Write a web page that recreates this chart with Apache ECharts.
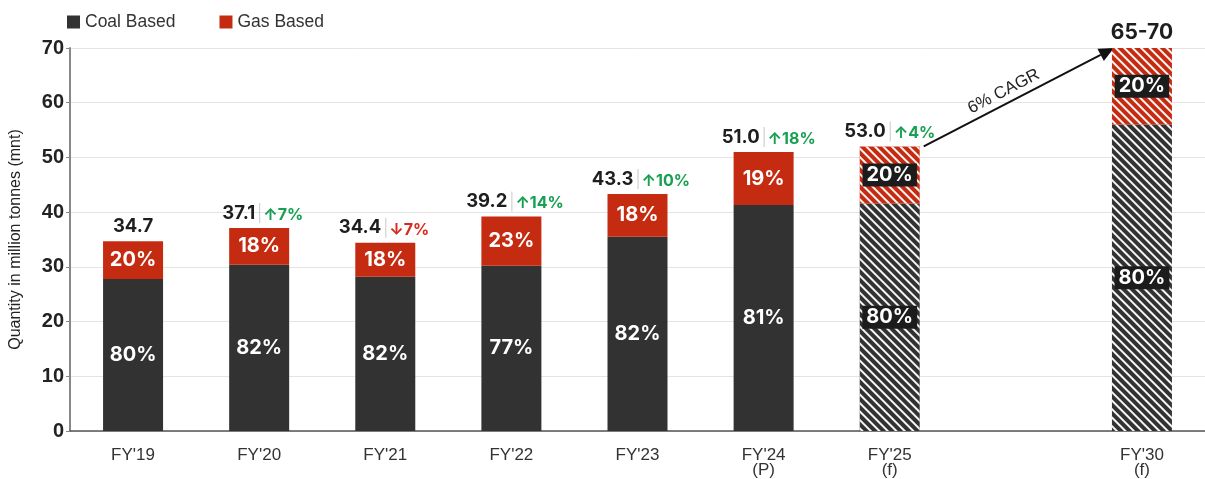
<!DOCTYPE html>
<html>
<head>
<meta charset="utf-8">
<script src="https://cdn.jsdelivr.net/npm/echarts@6/dist/echarts.min.js"></script>
<style>
  html, body { margin: 0; padding: 0; background: #fff; }
  #chart { width: 1205px; height: 479px; }
</style>
</head>
<body>
<div id="chart"></div>
<script>
// categories (blank slot keeps the gap between FY'25 and FY'30)
const categories = ["FY'19", "FY'20", "FY'21", "FY'22", "FY'23", "FY'24\n(P)", "FY'25\n(f)", "", "FY'30\n(f)"]
const coalValues = [27.8, 30.4, 28.2, 30.2, 35.5, 41.3, 41.6, null, 56]
const gasValues = [6.9, 6.7, 6.2, 9.0, 7.8, 9.7, 10.4, null, 14]
const coalShare = ['80%', '82%', '82%', '77%', '82%', '81%', '80%', '', '80%']
const gasShare = ['20%', '18%', '18%', '23%', '18%', '19%', '20%', '', '20%']
const totalLabels = ['34.7', '37.1', '34.4', '39.2', '43.3', '51.0', '53.0', '', '65-70']
const growthLabels = ['', '7%', '-7%', '14%', '10%', '18%', '4%', '', '']
const isForecast = [false, false, false, false, false, false, true, false, true]
const yTicks = { min: 0, max: 70, interval: 10 }

const COAL = '#323232'
const GAS = '#c42b10'
const LABEL_FONT = 'Inter, "Noto Sans", sans-serif'
const PLAIN_FONT = '"Liberation Sans", Arial, sans-serif'

const hatch = {
  symbol: 'rect',
  symbolSize: 1,
  color: 'rgba(255,255,255,0.95)',
  dashArrayX: [1, 0],
  dashArrayY: [1.1, 3.3],
  rotation: Math.PI / 4
}

function buildData (values, color) {
  return values.map((v, i) => {
    if (v === null) return null
    const item = { value: v }
    if (isForecast[i]) {
      item.itemStyle = { color: color, decal: hatch }
      item.label = { backgroundColor: '#1c1c1c', padding: [3, 4, 0, 4] }
    }
    return item
  })
}

const pctLabel = (shares) => ({
  show: true,
  position: 'inside',
  color: '#fff',
  fontFamily: LABEL_FONT,
  fontWeight: 'bold',
  fontSize: 20,
  formatter: p => shares[p.dataIndex]
})

// totals: right-aligned next to the divider when a growth tag follows, centred otherwise
const totalData = totalLabels.map((t, i) => {
  if (!t) return null
  if (!growthLabels[i]) return { value: 0, label: { align: 'center', offset: [0, 0] } }
  return { value: 0 }
})
const growthData = growthLabels.map(g => (g ? 0 : null))

const chart = echarts.init(document.getElementById('chart'))

const option = {
  animation: false,
  legend: {
    data: ['Coal Based', 'Gas Based'],
    left: 62,
    top: 8,
    icon: 'rect',
    itemWidth: 13,
    itemHeight: 13,
    itemGap: 44,
    textStyle: { fontSize: 17.5, color: '#333', fontFamily: PLAIN_FONT }
  },
  grid: { left: 68, right: 0, top: 48, bottom: 48 },
  xAxis: {
    type: 'category',
    data: categories,
    axisTick: { show: false },
    axisLine: { lineStyle: { color: '#555', width: 1.5 } },
    axisLabel: {
      color: '#333',
      fontSize: 17,
      lineHeight: 15,
      margin: 17,
      fontFamily: PLAIN_FONT
    }
  },
  yAxis: {
    type: 'value',
    min: yTicks.min,
    max: yTicks.max,
    interval: yTicks.interval,
    name: 'Quantity in million tonnes (mnt)',
    nameLocation: 'middle',
    nameGap: 46,
    nameTextStyle: { fontSize: 16, color: '#222', fontFamily: PLAIN_FONT },
    axisLine: { show: true, lineStyle: { color: '#888', width: 2 } },
    axisTick: { show: true, length: 4, lineStyle: { color: '#888' } },
    splitLine: { lineStyle: { color: '#e4e4e4' } },
    axisLabel: {
      color: '#222',
      fontSize: 20,
      fontWeight: 'bold',
      margin: 6,
      fontFamily: PLAIN_FONT
    }
  },
  series: [
    {
      name: 'Coal Based',
      type: 'bar',
      stack: 'total',
      barWidth: 60,
      itemStyle: { color: COAL },
      label: pctLabel(coalShare),
      data: buildData(coalValues, COAL)
    },
    {
      name: 'Gas Based',
      type: 'bar',
      stack: 'total',
      barWidth: 60,
      itemStyle: { color: GAS },
      label: pctLabel(gasShare),
      data: buildData(gasValues, GAS)
    },
    {
      // zero-height carrier for the total labels
      name: 'total',
      type: 'bar',
      stack: 'total',
      barWidth: 60,
      itemStyle: { color: 'transparent' },
      data: totalData,
      label: {
        show: true,
        position: 'top',
        distance: 5,
        align: 'right',
        offset: [1, 0],
        formatter: p => {
          const i = p.dataIndex
          const t = totalLabels[i]
          if (!growthLabels[i]) return i === 8 ? '{big|' + t + '}' : '{num|' + t + '}'
          return '{num|' + t + '}{gap|}{sep|}'
        },
        rich: {
          num: { fontFamily: LABEL_FONT, fontWeight: 'bold', fontSize: 18.5, color: '#1e1e1e' },
          big: { fontFamily: LABEL_FONT, fontWeight: 'bold', fontSize: 21, color: '#1e1e1e' },
          gap: { width: 4 },
          sep: { width: 1, height: 20, backgroundColor: '#c8c8c8' }
        }
      }
    },
    {
      // zero-height carrier for the growth tags
      name: 'growth',
      type: 'bar',
      stack: 'total',
      barWidth: 60,
      itemStyle: { color: 'transparent' },
      data: growthData,
      label: {
        show: true,
        position: 'top',
        distance: 5,
        align: 'left',
        offset: [4, 0],
        formatter: p => {
          const g = growthLabels[p.dataIndex]
          if (g[0] === '-') return '{dn|↓' + g.slice(1) + '}'
          return '{up|↑' + g + '}'
        },
        rich: {
          up: { fontFamily: LABEL_FONT, fontWeight: 'bold', fontSize: 16, color: '#17a052' },
          dn: { fontFamily: LABEL_FONT, fontWeight: 'bold', fontSize: 16, color: '#d8291c' }
        }
      }
    }
  ]
}

chart.setOption(option)

// CAGR arrow from FY'25 bar top to FY'30 bar top, placed through the axes
const half = 30
const fy25Top = coalValues[6] + gasValues[6]
const fy30Top = coalValues[8] + gasValues[8]
const a = chart.convertToPixel({ seriesIndex: 0 }, [categories[6], fy25Top])
const b = chart.convertToPixel({ seriesIndex: 0 }, [categories[8], fy30Top])
const ax = a[0] + half + 4, ay = a[1]
const bx = b[0] - half + 2, by = b[1]
const dx = bx - ax, dy = by - ay
const len = Math.sqrt(dx * dx + dy * dy)
const ux = dx / len, uy = dy / len
const headLen = 15, headW = 7
const baseX = bx - ux * headLen, baseY = by - uy * headLen
const nx = -uy, ny = ux
const tx = ax + dx * 0.45 + uy * 12, ty = ay + dy * 0.45 - ux * 12

chart.setOption({
  graphic: [
    {
      type: 'line',
      shape: { x1: ax, y1: ay, x2: baseX, y2: baseY },
      style: { stroke: '#111', lineWidth: 2 }
    },
    {
      type: 'polygon',
      shape: { points: [[bx, by], [baseX + nx * headW, baseY + ny * headW], [baseX - nx * headW, baseY - ny * headW]] },
      style: { fill: '#111' }
    },
    {
      type: 'text',
      x: tx,
      y: ty,
      rotation: -Math.atan2(dy, dx),
      style: {
        text: '6% CAGR',
        fill: '#222',
        font: '17px "Liberation Sans", Arial, sans-serif',
        align: 'center',
        verticalAlign: 'middle'
      }
    }
  ]
})
</script>
</body>
</html>
